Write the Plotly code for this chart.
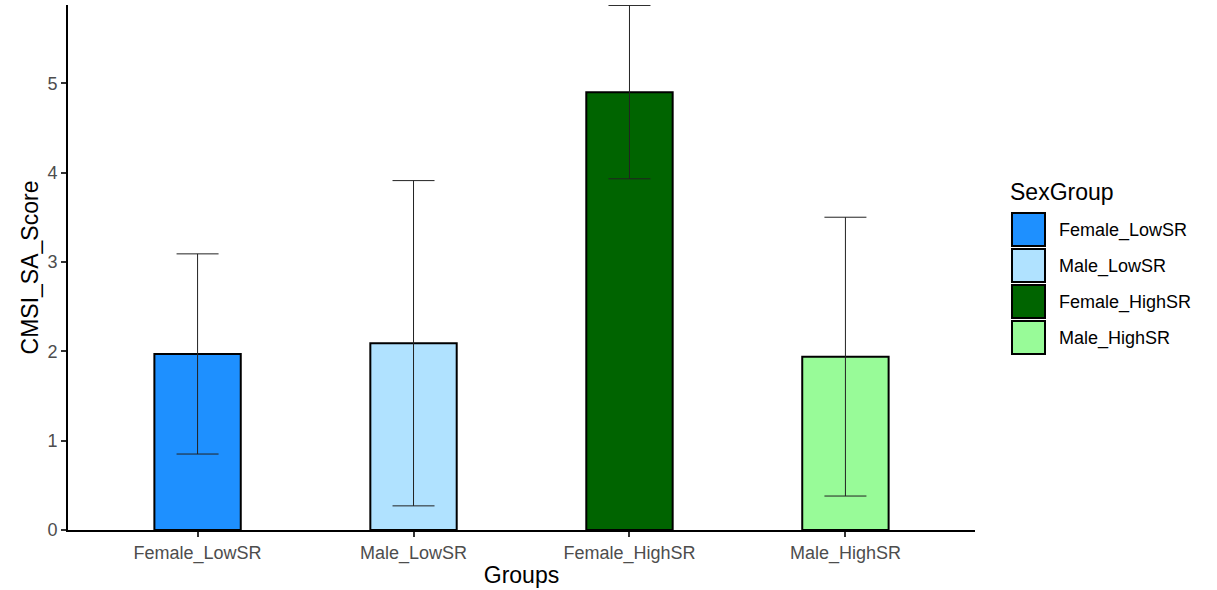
import plotly.graph_objects as go

groups = ["Female_LowSR", "Male_LowSR", "Female_HighSR", "Male_HighSR"]
means = [1.97, 2.09, 4.90, 1.94]
errors = [1.12, 1.82, 0.97, 1.56]
colors = ["#1E90FF", "#B0E2FF", "#006400", "#98FB98"]

W, H = 1217, 590
ML, MR, MT, MB = 68, 242, 5, 60
PW, PH = W - ML - MR, H - MT - MB

def px_x(px):
    return (px - ML) / PW

def px_y(py):
    return (H - MB - py) / PH

fig = go.Figure()
for g, m, e, c in zip(groups, means, errors, colors):
    fig.add_trace(go.Bar(
        x=[g], y=[m], name=g, showlegend=False,
        marker=dict(color=c, line=dict(color="black", width=2)),
        width=0.4,
        error_y=dict(type="data", array=[e], visible=True, color="#222222", thickness=1, width=21),
    ))

# manual legend with large ggplot-style keys
shapes = []
annotations = [dict(
    text="SexGroup", xref="paper", yref="paper",
    x=px_x(1008), y=px_y(192), xanchor="left", yanchor="middle",
    showarrow=False, font=dict(size=23, color="black"),
)]
for i, (g, c) in enumerate(zip(groups, colors)):
    top = 213 + 36 * i
    shapes.append(dict(
        type="rect", xref="paper", yref="paper",
        x0=px_x(1012), x1=px_x(1045), y0=px_y(top + 33), y1=px_y(top),
        fillcolor=c, line=dict(color="black", width=2),
    ))
    annotations.append(dict(
        text=g, xref="paper", yref="paper",
        x=px_x(1057), y=px_y(top + 17), xanchor="left", yanchor="middle",
        showarrow=False, font=dict(size=18, color="black"),
    ))

fig.update_layout(
    width=W, height=H,
    plot_bgcolor="white", paper_bgcolor="white",
    margin=dict(l=ML, r=MR, t=MT, b=MB, autoexpand=False),
    font=dict(family="Liberation Sans, Arial, sans-serif", color="black"),
    barmode="overlay",
    showlegend=False,
    shapes=shapes,
    annotations=annotations,
    xaxis=dict(
        title=dict(text="Groups", font=dict(size=23, color="black"), standoff=4),
        categoryorder="array", categoryarray=groups,
        range=[-0.6, 3.6],
        automargin=False,
        showline=True, linecolor="black", linewidth=2,
        ticks="outside", ticklen=5, tickcolor="#333333", tickwidth=1.5,
        tickfont=dict(size=18, color="#4D4D4D"),
        showgrid=False, zeroline=False,
    ),
    yaxis=dict(
        title=dict(text="CMSI_SA_Score", font=dict(size=23, color="black"), standoff=2),
        range=[0, 5.875],
        tickvals=[0, 1, 2, 3, 4, 5],
        automargin=False,
        showline=True, linecolor="black", linewidth=2,
        ticks="outside", ticklen=5, tickcolor="#333333", tickwidth=1.5,
        tickfont=dict(size=18, color="#4D4D4D"),
        showgrid=False, zeroline=False,
    ),
)

fig.write_html(
    "out.html",
    config={"displayModeBar": False},
    post_script="document.body.style.margin='0';document.body.style.overflow='hidden';",
)
